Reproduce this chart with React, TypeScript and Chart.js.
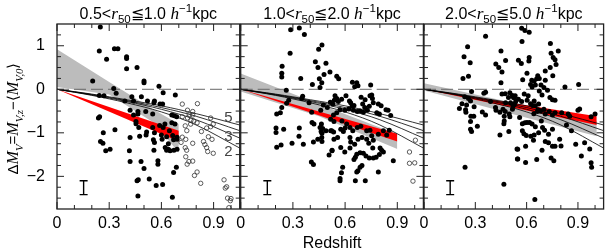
import React, { useEffect, useRef } from 'react';
import { Chart, registerables } from 'chart.js';
Chart.register(...registerables);

// ---------- layout constants ----------
const W = 609;
const H = 252;
const PLOT_TOP = 24;
const PLOT_BOTTOM = 209;
const PANEL_LEFT = [57, 240.7, 424];
const PANEL_RIGHT = [239.7, 423.4, 606.7];

// ---------- axes ----------
const X_MIN = 0;
const X_MAX = 1.05;
const Y_MIN = -2.75;
const Y_MAX = 1.5;
const xTickVals = [0, 0.3, 0.6, 0.9];
const xMinorVals = [0.1, 0.2, 0.4, 0.5, 0.7, 0.8, 1.0];
const yTickVals = [-2, -1, 0, 1];
const yMinorVals = [-2.5, -2.25, -1.75, -1.5, -1.25, -0.75, -0.5, -0.25, 0.25, 0.5, 0.75, 1.25];

// ---------- titles ----------
const panelLo = ['0.5', '1.0', '2.0'];
const panelHi = ['1.0', '2.0', '5.0'];
const xTitle = 'Redshift';

// ---------- model tracks (formation redshift 5, 4, 3, 2) ----------
const modelZ = [0, 0.2, 0.4, 0.6, 0.8, 1.05];
const model5 = [0, -0.11, -0.24, -0.38, -0.56, -0.82];
const model4 = [0, -0.12, -0.26, -0.42, -0.62, -0.95];
const model3 = [0, -0.13, -0.28, -0.46, -0.70, -1.12];
const model2 = [0, -0.14, -0.31, -0.52, -0.82, -1.35];
const modelLabels = ['5', '3', '2'];
const modelLabelZ = [0.985, 0.985, 0.985];
const modelLabelV = [-0.66, -1.1, -1.43];

// ---------- zero line ----------
const zeroZ = [0, 1.05];
const zeroV = [0, 0];

// ---------- error bar ----------
const errZ = [0.153, 0.153];
const errV = [-2.1, -2.42];

// ---------- fit bands per panel ----------
const grayZ1 = [0, 0.3, 0.55, 0.7];
const grayUp1 = [0.92, 0.17, -0.45, -0.8];
const grayLo1 = [0.05, -0.12, -0.75, -1.45];
const redZ1 = [0, 0.7];
const redUp1 = [0, -0.95];
const redLo1 = [0, -1.2];

const grayZ2 = [0, 0.45, 0.9];
const grayUp2 = [0.36, -0.34, -1.03];
const grayLo2 = [-0.05, -0.62, -1.37];
const redZ2 = [0, 0.9];
const redUp2 = [0, -1.02];
const redLo2 = [0, -1.2];

const grayZ3 = [0, 0.5, 1.01];
const grayUp3 = [0.14, -0.29, -0.72];
const grayLo3 = [-0.03, -0.55, -1.08];
const redZ3 = [0, 1.01];
const redUp3 = [0, -0.62];
const redLo3 = [0, -0.82];

// ---------- panel 1 galaxies ----------
const p1FillZ = [0.249, 0.243, 0.33, 0.35, 0.285, 0.40, 0.40, 0.40, 0.46, 0.50, 0.50, 0.205, 0.326, 0.34, 0.243, 0.27, 0.39, 0.43, 0.44, 0.485, 0.52, 0.56, 0.557, 0.42, 0.44, 0.465, 0.465, 0.454, 0.454, 0.245, 0.238, 0.51, 0.55, 0.47, 0.515, 0.512, 0.56, 0.475, 0.42, 0.333, 0.266, 0.25, 0.264, 0.28, 0.305, 0.416, 0.42, 0.483, 0.50, 0.53, 0.467, 0.46, 0.465, 0.57, 0.586, 0.61, 0.68, 0.592, 0.607, 0.66, 0.674, 0.688, 0.66, 0.678, 0.59, 0.62, 0.55, 0.56, 0.63, 0.665, 0.69, 0.69, 0.67, 0.604, 0.554, 0.622, 0.63, 0.64, 0.65, 0.672, 0.69, 0.557, 0.58, 0.58, 0.686, 0.67, 0.607, 0.663, 0.646, 0.61, 0.64, 0.60];
const p1FillV = [1.43, 0.88, 0.93, 0.93, 0.69, 0.75, 0.71, 0.47, 0.50, 0.19, 0.15, 0.19, 0.02, -0.09, -0.14, -0.15, -0.27, -0.17, -0.27, -0.17, -0.27, -0.27, -0.31, -0.48, -0.59, -0.51, -0.57, -0.74, -0.79, -0.63, -0.66, -0.51, -0.57, -0.88, -0.98, -1.05, -1.22, -1.08, -1.11, -0.93, -1.0, -1.2, -1.24, -1.41, -1.38, -1.41, -1.66, -1.66, -1.82, -2.06, -2.08, -2.1, -2.45, -2.21, 0.07, -0.08, -0.13, -0.34, -0.34, -0.59, -0.61, -0.63, -0.77, -0.80, -0.83, -0.80, -0.88, -1.0, -1.09, -1.06, -1.1, -1.15, -1.16, -1.15, -1.16, -1.34, -1.40, -1.38, -1.41, -1.40, -1.38, -1.40, -1.64, -1.72, -1.79, -1.91, -2.19, -2.48, -0.95, -0.88, -1.25, -1.05];
const p1OpenZ = [0.72, 0.807, 0.75, 0.78, 0.76, 0.78, 0.72, 0.75, 0.77, 0.786, 0.805, 0.883, 0.898, 0.883, 0.86, 0.768, 0.737, 0.746, 0.83, 0.87, 0.891, 0.72, 0.74, 0.713, 0.78, 0.842, 0.85, 0.86, 0.866, 0.898, 0.737, 0.745, 0.74, 0.758, 0.748, 0.78, 0.805, 0.79, 0.826, 0.96, 0.975, 0.967, 0.98, 1.0, 0.996, 0.988];
const p1OpenV = [-0.34, -0.33, -0.48, -0.51, -0.59, -0.59, -0.63, -0.66, -0.71, -0.73, -0.77, -0.66, -0.80, -0.86, -0.89, -0.80, -0.84, -0.95, -0.97, -1.09, -1.15, -1.1, -1.15, -1.22, -1.24, -1.2, -1.27, -1.34, -1.43, -1.47, -1.34, -1.4, -1.55, -1.66, -1.72, -1.65, -1.9, -1.98, -2.16, -2.08, -2.24, -2.27, -2.5, -2.51, -2.56, -2.72];

// ---------- panel 2 galaxies ----------
const p2FillZ = [0.287, 0.337, 0.366, 0.284, 0.238, 0.236, 0.236, 0.345, 0.262, 0.412, 0.448, 0.467, 0.429, 0.444, 0.49, 0.513, 0.479, 0.452, 0.466, 0.456, 0.356, 0.351, 0.393, 0.276, 0.264, 0.236, 0.228, 0.207, 0.408, 0.46, 0.475, 0.498, 0.515, 0.529, 0.41, 0.421, 0.464, 0.456, 0.471, 0.462, 0.467, 0.466, 0.49, 0.517, 0.534, 0.203, 0.203, 0.247, 0.337, 0.335, 0.36, 0.295, 0.232, 0.207, 0.418, 0.443, 0.467, 0.525, 0.508, 0.406, 0.418,
  0.552, 0.563, 0.642, 0.667, 0.674, 0.655, 0.747, 0.542, 0.552, 0.538, 0.561, 0.580, 0.605, 0.625, 0.632, 0.64, 0.651, 0.692, 0.715, 0.743, 0.757, 0.753, 0.762, 0.701, 0.713, 0.739, 0.791, 0.807, 0.835, 0.862, 0.847, 0.797, 0.782, 0.728, 0.705, 0.686, 0.67, 0.648, 0.621, 0.598, 0.571, 0.552, 0.533, 0.517, 0.536, 0.523, 0.582, 0.609, 0.628, 0.6, 0.575, 0.59, 0.644, 0.67, 0.69, 0.724, 0.743, 0.753, 0.762, 0.791, 0.82, 0.839, 0.854, 0.697, 0.674, 0.628, 0.632, 0.655, 0.575, 0.598, 0.525, 0.667, 0.686, 0.705, 0.72, 0.659, 0.651, 0.739, 0.762, 0.778, 0.797, 0.81, 0.801, 0.82, 0.877, 0.791, 0.697, 0.686, 0.674, 0.586, 0.579, 0.571, 0.571, 0.659, 0.716, 0.667, 0.724, 0.736, 0.759, 0.628, 0.536, 0.557];
const p2FillV = [1.37, 1.41, 1.26, 0.83, 0.53, 0.37, 0.28, 0.25, -0.02, 0.11, 0.92, 1.02, 0.63, 0.50, 0.60, 0.40, 0.34, 0.24, 0.15, 0.04, -0.16, -0.21, -0.31, -0.25, -0.32, -0.42, -0.54, -0.57, -0.53, -0.48, -0.36, -0.42, -0.30, -0.34, -0.76, -0.80, -0.80, -0.88, -0.90, -0.97, -1.01, -1.11, -0.95, -0.95, -0.98, -0.89, -0.99, -0.92, -0.89, -1.08, -1.26, -1.24, -1.28, -1.33, -1.21, -1.15, -1.20, -1.40, -1.51, -1.67, -1.73,
  0.30, 0.24, 0.16, 0.15, 0.08, 0.06, 0.10, -0.15, -0.21, -0.25, -0.28, -0.23, -0.15, -0.27, -0.31, -0.39, -0.37, -0.18, -0.24, -0.15, -0.21, -0.13, -0.31, -0.34, -0.42, -0.39, -0.34, -0.38, -0.47, -0.60, -0.48, -0.57, -0.54, -0.48, -0.53, -0.50, -0.51, -0.48, -0.45, -0.48, -0.47, -0.54, -0.59, -0.69, -0.74, -0.95, -0.73, -0.80, -0.88, -0.89, -0.92, -0.97, -0.95, -0.88, -0.85, -0.95, -0.94, -1.07, -1.17, -1.03, -0.95, -1.05, -0.94, -1.11, -1.15, -1.11, -1.21, -1.26, -1.34, -1.44, -1.41, -1.49, -1.46, -1.47, -1.53, -1.56, -1.61, -1.58, -1.58, -1.56, -1.50, -1.40, -1.35, -1.44, -1.64, -1.90, -1.75, -1.79, -1.87, -1.79, -1.92, -2.05, -2.10, -2.10, -2.10, -1.90, -1.15, -1.24, -1.35, -1.35, -1.15, -1.11];
const p2OpenZ = [1.004, 0.97, 0.97, 1.0, 0.99];
const p2OpenV = [-1.17, -1.44, -1.70, -1.69, -2.11];

// ---------- panel 3 galaxies ----------
const p3FillZ = [0.36, 0.255, 0.234, 0.27, 0.26, 0.228, 0.45, 0.477, 0.42, 0.437, 0.456, 0.45, 0.278, 0.35, 0.36, 0.238, 0.26, 0.272, 0.222, 0.207, 0.249, 0.243, 0.245, 0.293, 0.274, 0.272, 0.291, 0.312, 0.272, 0.278, 0.341, 0.36, 0.389, 0.418, 0.421, 0.444, 0.462, 0.475, 0.469, 0.469, 0.467, 0.498, 0.502, 0.517, 0.529, 0.536, 0.527, 0.456, 0.475, 0.502, 0.517, 0.494, 0.477, 0.506, 0.521, 0.496, 0.444, 0.24, 0.467, 0.544, 0.546,
  0.571, 0.59, 0.615, 0.573, 0.552, 0.569, 0.615, 0.613, 0.602, 0.577, 0.63, 0.644, 0.659, 0.651, 0.632, 0.623, 0.739, 0.743, 0.755, 0.766, 0.785, 0.772, 0.738, 0.709, 0.753, 0.709, 0.684, 0.701, 0.722, 0.674, 0.69, 0.736, 0.751, 0.766, 0.824, 0.904, 0.665, 0.674,
  0.533, 0.523, 0.552, 0.571, 0.586, 0.609, 0.603, 0.623, 0.636, 0.651, 0.67, 0.644, 0.667, 0.663, 0.642, 0.682, 0.701, 0.709, 0.732, 0.751, 0.766, 0.805, 0.843, 0.852, 0.9, 0.91, 1.0, 0.977, 0.559, 0.575, 0.59, 0.602, 0.617, 0.632, 0.651, 0.686, 0.693, 0.575, 0.584, 0.598, 0.625, 0.644, 0.67, 0.705, 0.728, 0.751, 0.709, 0.728, 0.751, 0.766, 0.793, 0.801, 0.833, 0.862, 0.939, 0.969, 0.887, 0.92, 0.548, 0.594, 0.64, 0.69, 0.548, 0.594, 0.659, 0.743, 0.759, 0.977, 0.98, 0.648];
const p3FillV = [1.22, 0.98, 0.75, 0.61, 0.30, 0.25, 0.88, 0.66, 0.58, 0.50, 0.40, 0.15, -0.05, -0.09, -0.07, -0.17, -0.21, -0.27, -0.33, -0.44, -0.36, -0.47, -0.53, -0.40, -0.62, -0.74, -0.62, -0.85, -0.92, -0.97, -0.52, -0.59, -0.28, -0.42, -0.48, -0.53, -0.46, -0.51, -0.62, -0.73, -0.79, -0.57, -0.63, -0.46, -0.34, -0.28, -0.19, -0.11, -0.10, -0.08, -0.14, -0.19, -0.31, -0.31, -0.39, -0.97, -1.05, -1.79, -2.18, -1.37, -1.60,
  1.40, 1.35, 1.31, 1.10, 0.67, 0.59, 0.73, 0.65, 0.37, 0.22, 0.21, 0.19, 0.24, 0.10, 0.05, 0.11, 1.05, 0.83, 0.73, 0.68, 0.88, 0.57, 0.50, 0.42, 0.31, 0.21, 0.10, 0.04, -0.02, -0.04, -0.13, -0.19, -0.24, -0.25, 0.05, 0.11, 0.31, 0.25,
  -0.15, -0.19, -0.23, -0.28, -0.11, -0.15, -0.25, -0.33, -0.37, -0.38, -0.34, -0.27, -0.47, -0.51, -0.56, -0.50, -0.46, -0.57, -0.51, -0.59, -0.54, -0.54, -0.57, -0.62, -0.48, -0.45, -0.57, -0.63, -0.65, -0.79, -0.77, -0.76, -0.76, -0.80, -0.86, -0.73, -0.88, -0.95, -1.02, -1.06, -1.08, -1.05, -1.0, -0.94, -1.03, -0.92, -1.20, -1.23, -1.31, -1.31, -1.15, -1.30, -0.82, -0.95, -1.23, -1.37, -1.26, -1.53, -1.38, -1.31, -1.17, -1.40, -1.60, -1.68, -1.61, -1.58, -1.64, -1.69, -1.79, -2.53];
const p3OpenZ: number[] = [];
const p3OpenV: number[] = [];

// ---------- helpers ----------
const FONT_SANS = '"Liberation Sans", Arial, sans-serif';
const FONT_SERIF = '"Liberation Serif", "Times New Roman", serif';

const zip = (zs: number[], vs: number[]) => zs.map((z, i) => ({ x: z, y: vs[i] }));

type Seg = { t: string; it?: boolean; sub?: boolean; sup?: boolean };

function segFont(s: Seg, size: number) {
  const small = s.sub || s.sup;
  const sz = small ? size * 0.72 : s.it ? size * 1.08 : size;
  return s.it ? `italic ${sz}px ${FONT_SERIF}` : `${sz}px ${FONT_SANS}`;
}

function drawRich(ctx: CanvasRenderingContext2D, segs: Seg[], cx: number, baseY: number, size: number) {
  ctx.textBaseline = 'alphabetic';
  ctx.textAlign = 'left';
  const widths = segs.map((s) => {
    ctx.font = segFont(s, size);
    return ctx.measureText(s.t).width;
  });
  const total = widths.reduce((a, b) => a + b, 0);
  let x = cx - total / 2;
  segs.forEach((s, i) => {
    ctx.font = segFont(s, size);
    const dy = s.sub ? size * 0.3 : s.sup ? -size * 0.38 : 0;
    ctx.fillText(s.t, x, baseY + dy);
    x += widths[i];
  });
}

function panelTitle(i: number): Seg[] {
  return [
    { t: panelLo[i] + '<' },
    { t: 'r', it: true },
    { t: '50', sub: true },
    { t: '≦' + panelHi[i] + ' ' },
    { t: 'h', it: true },
    { t: '−1', sup: true },
    { t: 'kpc' },
  ];
}

const yTitleSegs: Seg[] = [
  { t: 'Δ' },
  { t: 'M', it: true },
  { t: 'V', it: true, sub: true },
  { t: '=' },
  { t: 'M', it: true },
  { t: 'V,z', it: true, sub: true },
  { t: '−⟨' },
  { t: 'M', it: true },
  { t: 'V,0', it: true, sub: true },
  { t: '⟩' },
];

const framePlugin = {
  id: 'frameTicks',
  afterDatasetsDraw(chart: any) {
    const { ctx, chartArea: a, scales } = chart;
    const xs = scales.x;
    const ys = scales.y;
    ctx.save();
    ctx.strokeStyle = '#222';
    ctx.lineWidth = 1;
    const drawX = (vals: number[], len: number) => {
      vals.forEach((v) => {
        const px = xs.getPixelForValue(v);
        ctx.beginPath();
        ctx.moveTo(px, a.bottom);
        ctx.lineTo(px, a.bottom - len);
        ctx.moveTo(px, a.top);
        ctx.lineTo(px, a.top + len);
        ctx.stroke();
      });
    };
    const drawY = (vals: number[], len: number) => {
      vals.forEach((v) => {
        const py = ys.getPixelForValue(v);
        ctx.beginPath();
        ctx.moveTo(a.left, py);
        ctx.lineTo(a.left + len, py);
        ctx.moveTo(a.right, py);
        ctx.lineTo(a.right - len, py);
        ctx.stroke();
      });
    };
    drawX(xTickVals, 7);
    drawX(xMinorVals, 4);
    drawY(yTickVals, 7);
    drawY(yMinorVals, 4);
    ctx.lineWidth = 1.3;
    ctx.strokeRect(a.left, a.top, a.right - a.left, a.bottom - a.top);
    ctx.restore();
  },
};

function makeTextPlugin(panel: number) {
  return {
    id: 'panelText' + panel,
    afterDraw(chart: any) {
      const { ctx, chartArea: a, scales } = chart;
      ctx.save();
      ctx.fillStyle = '#000';
      drawRich(ctx, panelTitle(panel), (a.left + a.right) / 2, 18.5, 16);
      if (panel === 1) {
        ctx.font = `16px ${FONT_SANS}`;
        ctx.textAlign = 'center';
        ctx.textBaseline = 'alphabetic';
        ctx.fillText(xTitle, (a.left + a.right) / 2, 248);
      }
      if (panel === 0) {
        ctx.save();
        ctx.translate(18, (a.top + a.bottom) / 2 + 2);
        ctx.rotate(-Math.PI / 2);
        drawRich(ctx, yTitleSegs, 0, 0, 15);
        ctx.restore();
        ctx.fillStyle = '#444';
        ctx.font = `15px ${FONT_SANS}`;
        ctx.textAlign = 'center';
        ctx.textBaseline = 'middle';
        modelLabels.forEach((lab, k) => {
          ctx.fillText(lab, scales.x.getPixelForValue(modelLabelZ[k]), scales.y.getPixelForValue(modelLabelV[k]));
        });
      }
      ctx.restore();
    },
  };
}

const bandData = [
  { gz: grayZ1, gu: grayUp1, gl: grayLo1, rz: redZ1, ru: redUp1, rl: redLo1, fz: p1FillZ, fv: p1FillV, oz: p1OpenZ, ov: p1OpenV },
  { gz: grayZ2, gu: grayUp2, gl: grayLo2, rz: redZ2, ru: redUp2, rl: redLo2, fz: p2FillZ, fv: p2FillV, oz: p2OpenZ, ov: p2OpenV },
  { gz: grayZ3, gu: grayUp3, gl: grayLo3, rz: redZ3, ru: redUp3, rl: redLo3, fz: p3FillZ, fv: p3FillV, oz: p3OpenZ, ov: p3OpenV },
];

function buildConfig(panel: number): any {
  const d = bandData[panel];
  const lineDs = (data: any[], extra: any) => ({
    data,
    showLine: true,
    pointRadius: 0,
    borderWidth: 0.8,
    borderColor: '#000',
    backgroundColor: 'transparent',
    fill: false,
    tension: 0.35,
    ...extra,
  });
  const datasets = [
    lineDs(zip(d.gz, d.gu), { borderWidth: 0, borderColor: 'transparent', fill: '+1', backgroundColor: '#bcbcbc', tension: 0, order: 10 }),
    lineDs(zip(d.gz, d.gl), { borderWidth: 0, borderColor: 'transparent', tension: 0, order: 10 }),
    lineDs(zip(d.rz, d.ru), { borderWidth: 0, borderColor: 'transparent', fill: '+1', backgroundColor: '#ff0000', tension: 0, order: 9 }),
    lineDs(zip(d.rz, d.rl), { borderWidth: 0, borderColor: 'transparent', tension: 0, order: 9 }),
    lineDs(zip(modelZ, model5), { order: 8 }),
    lineDs(zip(modelZ, model4), { order: 8 }),
    lineDs(zip(modelZ, model3), { order: 8 }),
    lineDs(zip(modelZ, model2), { order: 8 }),
    lineDs(zip(zeroZ, zeroV), { borderColor: '#666', borderWidth: 1, borderDash: [12, 5], tension: 0, order: 7 }),
    {
      data: zip(errZ, errV),
      showLine: true,
      borderColor: '#000',
      borderWidth: 1.4,
      pointStyle: 'line',
      pointRadius: 4,
      pointBorderColor: '#000',
      pointBorderWidth: 1.4,
      fill: false,
      order: 6,
    },
    {
      data: zip(d.oz, d.ov),
      showLine: false,
      pointRadius: 2.2,
      pointBackgroundColor: 'rgba(255,255,255,0)',
      pointBorderColor: '#333',
      pointBorderWidth: 0.8,
      order: 2,
    },
    {
      data: zip(d.fz, d.fv),
      showLine: false,
      pointRadius: 2.5,
      pointBackgroundColor: '#000',
      pointBorderColor: '#000',
      pointBorderWidth: 0,
      order: 1,
    },
  ];
  return {
    type: 'line',
    data: { datasets },
    options: {
      responsive: false,
      animation: false,
      devicePixelRatio: 1,
      events: [],
      layout: {
        padding: {
          left: panel === 0 ? 0 : PANEL_LEFT[panel],
          right: W - PANEL_RIGHT[panel],
          top: PLOT_TOP,
          bottom: 0,
        },
      },
      plugins: { legend: { display: false }, tooltip: { enabled: false }, title: { display: false } },
      scales: {
        x: {
          type: 'linear',
          min: X_MIN,
          max: X_MAX,
          grid: { display: false, drawTicks: false },
          border: { display: false },
          afterFit: (s: any) => {
            s.height = H - PLOT_BOTTOM;
            s.paddingLeft = 0;
            s.paddingRight = 0;
          },
          afterBuildTicks: (s: any) => {
            s.ticks = xTickVals.map((v) => ({ value: v }));
          },
          ticks: {
            autoSkip: false,
            maxRotation: 0,
            padding: 5,
            color: '#000',
            font: { family: FONT_SANS, size: 16 },
            callback: (v: number) => (v === 0 ? '0' : v.toFixed(1)),
          },
        },
        y: {
          type: 'linear',
          min: Y_MIN,
          max: Y_MAX,
          display: panel === 0,
          grid: { display: false, drawTicks: false },
          border: { display: false },
          afterFit: (s: any) => {
            s.width = panel === 0 ? PANEL_LEFT[0] : 0;
            s.paddingTop = 0;
            s.paddingBottom = 0;
          },
          afterBuildTicks: (s: any) => {
            s.ticks = yTickVals.map((v) => ({ value: v }));
          },
          ticks: {
            padding: 12,
            color: '#000',
            font: { family: FONT_SANS, size: 16 },
            callback: (v: number) => (v < 0 ? '−' + Math.abs(v) : String(v)),
          },
        },
      },
    },
    plugins: [framePlugin, makeTextPlugin(panel)],
  };
}

function Panel({ index }: { index: number }) {
  const ref = useRef<HTMLCanvasElement | null>(null);
  useEffect(() => {
    if (!ref.current) return;
    const chart = new Chart(ref.current, buildConfig(index));
    return () => chart.destroy();
  }, [index]);
  return (
    <canvas
      ref={ref}
      width={W}
      height={H}
      style={{ position: 'absolute', left: 0, top: 0, width: W, height: H, pointerEvents: 'none' }}
    />
  );
}

export default function App() {
  return (
    <div style={{ position: 'absolute', left: 0, top: 0, width: W, height: H, background: '#fff' }}>
      <Panel index={0} />
      <Panel index={1} />
      <Panel index={2} />
    </div>
  );
}
